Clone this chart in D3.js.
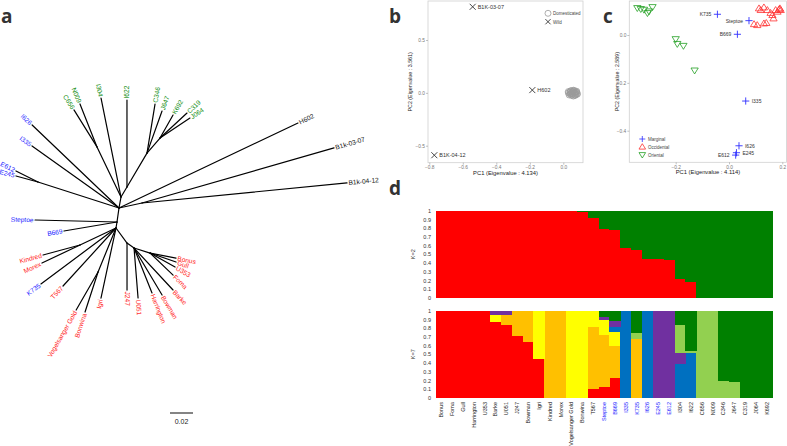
<!DOCTYPE html>
<html><head><meta charset="utf-8">
<script src="https://cdn.jsdelivr.net/npm/d3@7"></script>
<style>body{margin:0;background:#fff}svg{display:block}</style>
</head><body><svg id="fig" width="787" height="446"></svg>
<script>
// ---------- DATA ----------
// Panel a: unrooted tree edges [child, parent, branch length, angle (deg)]
const treeEdges = [
 ["N1","root",0.0123,81.9],["N2","N1",0.0097,79.7],["N3","N2",0.0483,115.6],
 ["C656","N3",0.0379,121.9],["N009","N3",0.0402,111.6],["I304","N2",0.0878,101.4],
 ["N4","N2",0.0101,59],["I622","N4",0.0757,90],["N5","N4",0.0343,59.5],
 ["C346","N5",0.0432,80.7],["J647","N5",0.0388,70.3],["N6","N5",0.0173,49.1],
 ["K692","N6",0.023,60.5],["C319","N6",0.032,42.8],["J064","N6",0.0313,33.7],
 ["I626","N1",0.1045,136.3],["I335","N1",0.0929,144.5],["N7","N1",0.074,162.2],
 ["E612","N7",0.0214,153.4],["E245","N7",0.0198,164.7],
 ["H602","N1",0.1723,25.4],["N8","N1",0.0205,12.3],
 ["B1k-03-07","N8",0.1737,16.0],["B1k-04-12","N8",0.1791,5.6],
 ["Steptoe","root",0.0713,178.6],["B669","root",0.0468,189.6],
 ["N9","root",0.0053,260.5],["N10","N9",0.0346,205.3],
 ["Kindred","N10",0.0333,195.1],["Morex","N10",0.0366,205.3],
 ["K735","N9",0.0814,216.7],["T567","N9",0.0683,227.6],["N11","N9",0.0413,247.8],
 ["Vogelsanger Gold","N11",0.0382,240.1],["Bonwina","N11",0.0366,252],
 ["Igri","N9",0.0623,257.9],["N12","N9",0.0162,306.3],["J247","N12",0.0409,270],
 ["N13","N12",0.0075,324.5],["U051","N13",0.0436,274.6],["Harrington","N13",0.0421,291.8],
 ["Bowman","N13",0.0476,300.8],["Barke","N13",0.0498,312.9],["N14","N13",0.0146,342.6],
 ["Foma","N14",0.0277,316.3],["U353","N14",0.0249,330.8],["Gull","N14",0.0239,340.9],
 ["Bonus","N14",0.023,349.1]
];
const groupOriental = ["C656","N009","I304","I622","C346","J647","K692","C319","J064"];
const groupMarginal = ["I626","I335","E612","E245","Steptoe","B669","K735"];
const groupWild = ["H602","B1k-03-07","B1k-04-12"];

// Panel b: PCA (wild + domesticated)
const wildNames = ["B1K-03-07","H602","B1K-04-12"];
const wildPC1 = [-0.541,-0.185,-0.77];
const wildPC2 = [0.814,0.026,-0.59];
const domPC1 = [0.03,0.04,0.05,0.06,0.07,0.08,0.035,0.045,0.055,0.065,0.075,0.085,0.04,0.05,0.06,0.07,0.08,0.03,0.045,0.055,0.065,0.075,0.05,0.06,0.07,0.04,0.08,0.055,0.065,0.045,0.07];
const domPC2 = [0.0,0.01,-0.01,0.015,-0.005,0.005,-0.02,0.02,-0.015,0.0,0.01,-0.01,0.005,-0.025,0.025,-0.02,-0.015,0.012,-0.008,0.012,0.022,-0.012,0.0,-0.03,0.003,-0.012,0.015,-0.005,0.008,0.018,-0.025];
const bXTicks = [-0.8,-0.6,-0.4,-0.2,0.0];
const bYTicks = [-0.5,0.0,0.5];

// Panel c: PCA (domesticated groups)
const margNames = ["K735","Steptoe","B669","I335","I626","E245","E612"];
const margPC1 = [-0.0435,0.075,0.0315,0.0627,0.0375,0.028,0.025];
const margPC2 = [0.0866,0.06,0.003,-0.276,-0.463,-0.492,-0.502];
const occPC1 = [0.1126,0.119,0.131,0.144,0.156,0.163,0.167,0.175,0.182,0.188,0.191,0.194,0.094,0.106,0.131,0.140];
const occPC2 = [0.112,0.105,0.116,0.105,0.093,0.084,0.070,0.105,0.098,0.108,0.112,0.105,0.046,0.042,0.049,0.051];
const oriPC1 = [-0.344,-0.331,-0.319,-0.306,-0.300,-0.287,-0.2,-0.194,-0.171,-0.129];
const oriPC2 = [0.112,0.108,0.105,0.091,0.098,0.116,-0.018,-0.038,-0.046,-0.149];
const cXTicks = [-0.2,0.0,0.2];
const cYTicks = [-0.4,-0.2,0.0];

// Panel d: structure
const samples = ["Bonus","Foma","Gull","Harrington","U353","Barke","U051","J247","Bowman","Igri","Kindred","Morex","Vogelsanger Gold","Bonwina","T567","Steptoe","B669","I335","K735","I626","E245","E612","I304","I622","C656","N009","C346","J647","C319","J064","K692"];
const k2Red = [1,1,1,1,1,1,1,1,1,1,1,1,1,0.99,0.92,0.79,0.774,0.567,0.548,0.444,0.44,0.433,0.21,0.184,0,0,0,0,0,0,0];
const k7Red    = [1,1,1,1,1,0.866,0.835,0.71,0.644,0.44,0,0,0,0,0.096,0.126,0.222,0,0,0,0,0,0,0,0,0,0,0,0,0,0];
const k7Orange = [0,0,0,0,0,0,0.111,0.29,0.356,0,1,1,0,0,0.712,0.594,0.372,0,0.67,0,0,0,0,0,0,0,0,0,0,0,0];
const k7Yellow = [0,0,0,0,0,0.08,0,0,0,0.56,0,0,1,1,0.192,0.173,0.165,0,0,0,0,0,0,0,0,0,0,0,0,0,0];
const k7Blue   = [0,0,0,0,0,0,0,0,0,0,0,0,0,0,0,0,0.057,1,0,1,0,0,0.387,0.51,0,0,0,0,0,0,0];
const k7Purple = [0,0,0,0,0,0.054,0.054,0,0,0,0,0,0,0,0,0.03,0.065,0,0,0,1,1,0.123,0,0,0,0,0,0,0,0];
const k7LGreen = [0,0,0,0,0,0,0,0,0,0,0,0,0,0,0,0,0,0,0.069,0,0,0,0.325,0.026,1,1,0.19,0.18,0,0,0];
const k7Green  = [0,0,0,0,0,0,0,0,0,0,0,0,0,0,0,0.077,0.119,0,0.261,0,0,0,0.165,0.464,0,0,0.81,0.82,1,1,1];
const dYTicks = [0,0.1,0.2,0.3,0.4,0.5,0.6,0.7,0.8,0.9,1];

// ---------- DRAW ----------
const svg = d3.select("#fig");
svg.append("rect").attr("width",787).attr("height",446).attr("fill","#fff");
const FONT = "Liberation Sans, Arial, sans-serif";
const colGreen = "#0a8a0a", colBlue = "#2020ff", colRed = "#ff1a1a";
function leafColor(n){
  if (groupOriental.includes(n)) return colGreen;
  if (groupMarginal.includes(n)) return colBlue;
  if (groupWild.includes(n)) return "#111";
  return colRed;
}
// panel letters
[["a",1,23],["b",389,23],["c",603,23],["d",389,195]].forEach(([t,x,y])=>{
  svg.append("text").attr("x",x).attr("y",y).text(t)
    .attr("font-family","Open Sans, sans-serif").attr("font-weight","bold")
    .attr("font-size",19).attr("fill","#333");
});

// ---- Panel a: tree ----
const pos = {root:{x:0,y:0}};
const tx = d3.scaleLinear().domain([0,0.02]).range([117,140]);
const ty = d3.scaleLinear().domain([0,0.02]).range([222,199]);
const gA = svg.append("g");
treeEdges.forEach(([c,p,len,ang])=>{
  const r = ang*Math.PI/180;
  pos[c] = {x: pos[p].x + len*Math.cos(r), y: pos[p].y + len*Math.sin(r), ang};
});
treeEdges.forEach(([c,p])=>{
  gA.append("line").attr("x1",tx(pos[p].x)).attr("y1",ty(pos[p].y))
    .attr("x2",tx(pos[c].x)).attr("y2",ty(pos[c].y))
    .attr("stroke","#000").attr("stroke-width",1.2).attr("stroke-linecap","round");
});
treeEdges.filter(e=>!/^N\d+$/.test(e[0]) || e[0]==="N009").forEach(([c])=>{
  const a = pos[c].ang, r = a*Math.PI/180;
  const right = Math.cos(r) > -1e-6;
  const x = tx(pos[c].x), y = ty(pos[c].y);
  gA.append("text").attr("transform",`translate(${x},${y}) rotate(${right?-a:180-a})`)
    .attr("x", right?1.5:-1.5).attr("dy","0.35em")
    .attr("text-anchor", right?"start":"end")
    .attr("font-family",FONT).attr("font-size",6.6)
    .attr("fill",leafColor(c)).text(c);
});
// scale bar
gA.append("line").attr("x1",170).attr("x2",170+tx(0.02)-tx(0)).attr("y1",413).attr("y2",413)
  .attr("stroke","#333").attr("stroke-width",1.2);
gA.append("text").attr("x",170+(tx(0.02)-tx(0))/2).attr("y",424).attr("text-anchor","middle")
  .attr("font-family",FONT).attr("font-size",7).attr("fill","#222").text("0.02");

// common PCA axes helper
function pcaFrame(g, x, y, L, T, R, B, xt, yt, xTitle, yTitle, yTitleX){
  g.append("rect").attr("x",L).attr("y",T).attr("width",R-L).attr("height",B-T)
    .attr("fill","#fff").attr("stroke","#d0d0d0").attr("stroke-width",0.8);
  const ax = g.append("g").attr("transform",`translate(0,${B})`)
    .call(d3.axisBottom(x).tickValues(xt).tickSize(2).tickPadding(1).tickFormat(d3.format(".1f")));
  const ay = g.append("g").attr("transform",`translate(${L},0)`)
    .call(d3.axisLeft(y).tickValues(yt).tickSize(2).tickPadding(1).tickFormat(d3.format(".1f")));
  [ax,ay].forEach(a=>{
    a.select(".domain").remove();
    a.selectAll("line").attr("stroke","#999").attr("stroke-width",0.6);
    a.selectAll("text").attr("font-family",FONT).attr("font-size",4.8).attr("fill","#777");
  });
  g.append("text").attr("x",(L+R)/2).attr("y",B+12).attr("text-anchor","middle")
    .attr("font-family",FONT).attr("font-size",5.8).attr("fill","#222").text(xTitle);
  g.append("text").attr("transform",`translate(${yTitleX},${(T+B)/2}) rotate(-90)`)
    .attr("text-anchor","middle").attr("font-family",FONT).attr("font-size",5.3)
    .attr("fill","#222").text(yTitle);
}
function crossPath(s){return `M${-s},${-s}L${s},${s}M${-s},${s}L${s},${-s}`;}
function plusPath(s){return `M${-s},0L${s},0M0,${-s}L0,${s}`;}
function triUp(s){return `M0,${-s}L${s*1.1},${s*0.8}L${-s*1.1},${s*0.8}Z`;}
function triDown(s){return `M0,${s}L${s*1.1},${-s*0.8}L${-s*1.1},${-s*0.8}Z`;}

// ---- Panel b ----
const gB = svg.append("g");
const xb = d3.scaleLinear().domain([-0.8,0]).range([429.3,563.3]);
const yb = d3.scaleLinear().domain([-0.5,0.5]).range([145.7,40]);
pcaFrame(gB, xb, yb, 428, 1, 583, 162.7, bXTicks, bYTicks,
  "PC1 (Eigenvalue : 4.134)", "PC2 (Eigenvalue : 3.561)", 412);
domPC1.forEach((v,i)=>{
  gB.append("circle").attr("cx",xb(v)).attr("cy",yb(domPC2[i])).attr("r",3)
    .attr("fill","none").attr("stroke","#9a9a9a").attr("stroke-width",0.8);
});
wildPC1.forEach((v,i)=>{
  const x=xb(v), y=yb(wildPC2[i]);
  gB.append("path").attr("d",crossPath(3)).attr("transform",`translate(${x},${y})`)
    .attr("stroke","#333").attr("stroke-width",0.9).attr("fill","none");
  gB.append("text").attr("x",x+5).attr("y",y+2).attr("font-family",FONT).attr("font-size",5.5)
    .attr("fill","#333").text(wildNames[i]);
});
// legend b
gB.append("circle").attr("cx",548).attr("cy",13.3).attr("r",3).attr("fill","none").attr("stroke","#9a9a9a").attr("stroke-width",0.8);
gB.append("text").attr("x",553).attr("y",15.2).attr("font-family",FONT).attr("font-size",4.5).attr("fill","#444").text("Domesticated");
gB.append("path").attr("d",crossPath(2.6)).attr("transform","translate(548,21.7)").attr("stroke","#333").attr("stroke-width",0.9);
gB.append("text").attr("x",553).attr("y",23.5).attr("font-family",FONT).attr("font-size",4.5).attr("fill","#444").text("Wild");

// ---- Panel c ----
const gC = svg.append("g");
const xc = d3.scaleLinear().domain([-0.2,0.2]).range([675.7,782.3]);
const yc = d3.scaleLinear().domain([-0.4,0]).range([130.7,35]);
pcaFrame(gC, xc, yc, 629.3, 1, 786.5, 162.3, cXTicks, cYTicks,
  "PC1 (Eigenvalue : 4.114)", "PC2 (Eigenvalue : 2.589)", 619);
oriPC1.forEach((v,i)=>{
  gC.append("path").attr("d",triDown(3.3)).attr("transform",`translate(${xc(v)},${yc(oriPC2[i])})`)
    .attr("fill","none").attr("stroke","#22a022").attr("stroke-width",0.8);
});
occPC1.forEach((v,i)=>{
  gC.append("path").attr("d",triUp(3.3)).attr("transform",`translate(${xc(v)},${yc(occPC2[i])})`)
    .attr("fill","none").attr("stroke","#ff3030").attr("stroke-width",0.8);
});
const margLabelRight = {I335:true,I626:true,E245:true};
margPC1.forEach((v,i)=>{
  const x=xc(v), y=yc(margPC2[i]);
  gC.append("path").attr("d",plusPath(3.6)).attr("transform",`translate(${x},${y})`)
    .attr("stroke","#3030ff").attr("stroke-width",0.9);
  const rgt = !!margLabelRight[margNames[i]];
  gC.append("text").attr("x", rgt? x+6 : x-6).attr("y", y+2).attr("text-anchor", rgt?"start":"end")
    .attr("font-family",FONT).attr("font-size",5).attr("fill","#333").text(margNames[i]);
});
// legend c
[["Marginal",139,plusPath(3),"#3030ff"],["Occidental",146.7,triUp(3),"#ff3030"],["Oriental",155,triDown(3),"#22a022"]]
.forEach(([t,y,d,c])=>{
  gC.append("path").attr("d",d).attr("transform",`translate(642.3,${y})`).attr("fill","none").attr("stroke",c).attr("stroke-width",0.8);
  gC.append("text").attr("x",648).attr("y",y+1.8).attr("font-family",FONT).attr("font-size",4.5).attr("fill","#444").text(t);
});

// ---- Panel d ----
const gD = svg.append("g");
const xd = d3.scaleBand().domain(samples).range([435.7,772.3]).paddingInner(0).paddingOuter(0);
const yK2 = d3.scaleLinear().domain([0,1]).range([297.7,210.7]);
const yK7 = d3.scaleLinear().domain([0,1]).range([397.7,310.7]);
const k2Data = samples.map((s,i)=>({s, red:k2Red[i], green:1-k2Red[i]}));
const k7Data = samples.map((s,i)=>({s, red:k7Red[i], orange:k7Orange[i], yellow:k7Yellow[i], blue:k7Blue[i], purple:k7Purple[i], lgreen:k7LGreen[i], green:k7Green[i]}));
const kColors = {red:"#ff0000", orange:"#ffc000", yellow:"#ffff00", blue:"#0070c0", purple:"#7030a0", lgreen:"#92d050", green:"#008000"};
function drawStack(data, keys, y){
  const st = d3.stack().keys(keys)(data);
  st.forEach(layer=>{
    gD.append("g").selectAll("rect").data(layer).join("rect")
      .attr("x",d=>xd(d.data.s)).attr("width",xd.bandwidth()+0.3)
      .attr("y",d=>y(d[1])).attr("height",d=>Math.max(0,y(d[0])-y(d[1])))
      .attr("fill",kColors[layer.key]).attr("shape-rendering","crispEdges");
  });
  const ax = gD.append("g").attr("transform","translate(431,0)")
    .call(d3.axisLeft(y).tickValues(dYTicks).tickSize(0).tickPadding(0).tickFormat(d=>d3.format("")(d)));
  ax.select(".domain").remove();
  ax.selectAll("text").attr("font-family",FONT).attr("font-size",5.5).attr("fill","#333");
}
drawStack(k2Data, ["red","green"], yK2);
drawStack(k7Data, ["red","orange","yellow","blue","purple","lgreen","green"], yK7);
gD.append("text").attr("transform",`translate(415,${(yK2(0)+yK2(1))/2}) rotate(-90)`).attr("text-anchor","middle")
  .attr("font-family",FONT).attr("font-size",5.5).attr("fill","#333").text("K=2");
gD.append("text").attr("transform",`translate(415,${(yK7(0)+yK7(1))/2}) rotate(-90)`).attr("text-anchor","middle")
  .attr("font-family",FONT).attr("font-size",5.5).attr("fill","#333").text("K=7");
samples.forEach(s=>{
  gD.append("text").attr("transform",`translate(${xd(s)+xd.bandwidth()/2+2},402) rotate(-90)`)
    .attr("text-anchor","end").attr("font-family",FONT).attr("font-size",5.5)
    .attr("fill", groupMarginal.includes(s)? "#2020ff":"#222").text(s);
});
</script></body></html>
